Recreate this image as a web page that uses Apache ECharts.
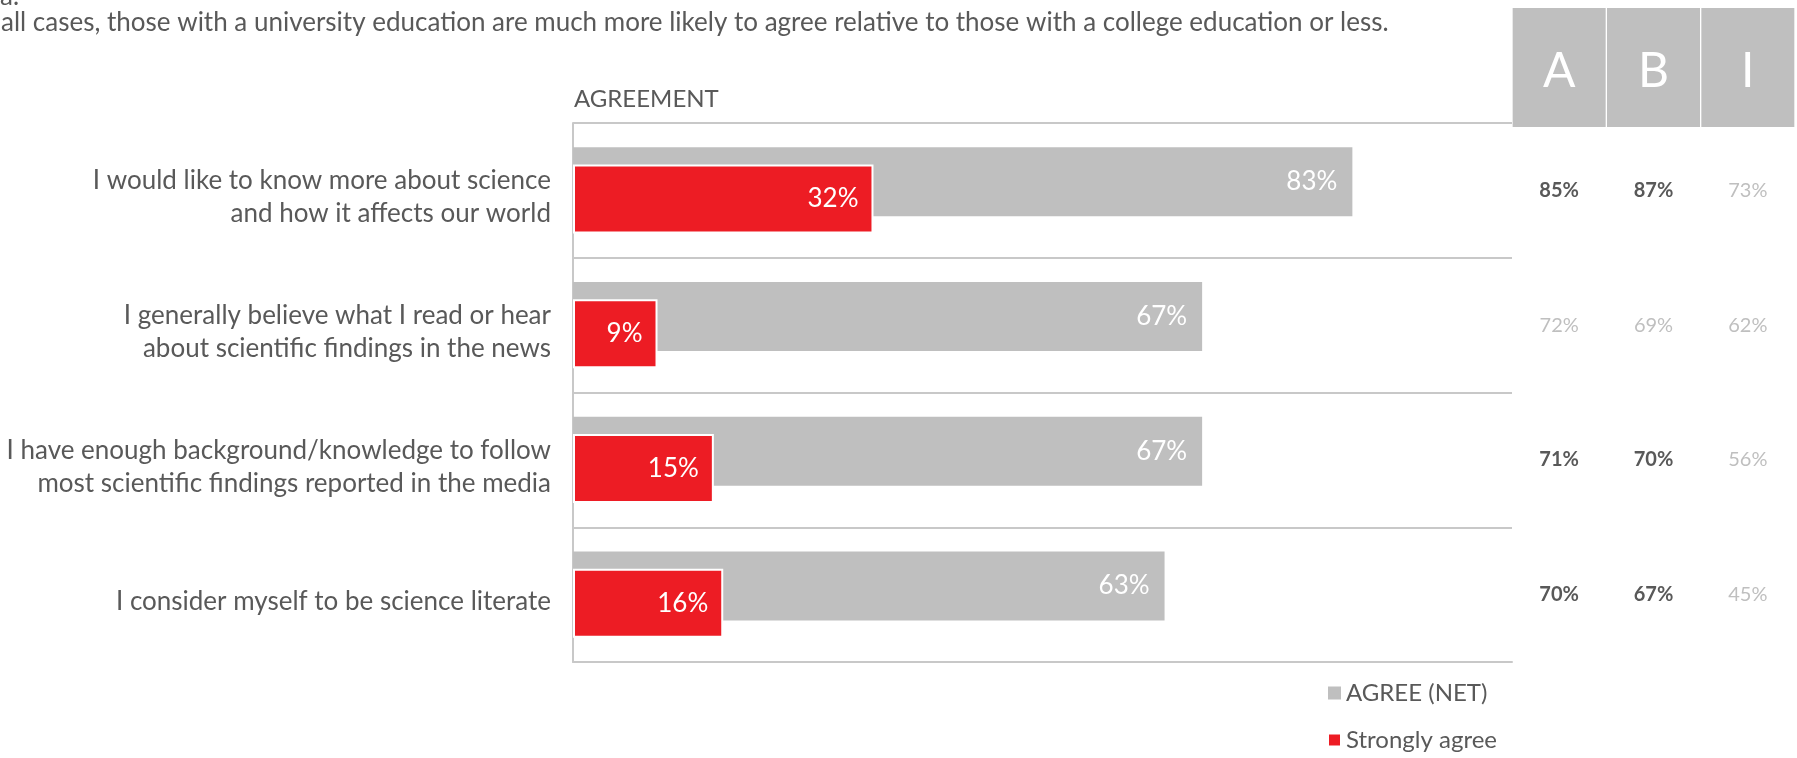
<!DOCTYPE html>
<html>
<head>
<meta charset="utf-8">
<script src="https://cdn.jsdelivr.net/npm/echarts@6/dist/echarts.min.js"></script>
<style>
  html, body { margin: 0; padding: 0; background: #ffffff; }
  #chart { width: 1797px; height: 758px; }
</style>
</head>
<body>
<div id="chart"></div>
<script>
// Survey statements (top to bottom)
const statements = [
  'I would like to know more about science\nand how it affects our world',
  'I generally believe what I read or hear\nabout scientific findings in the news',
  'I have enough background/knowledge to follow\nmost scientific findings reported in the media',
  'I consider myself to be science literate'
];
const seriesNames = ['AGREE (NET)', 'Strongly agree'];
const agreeNet = [83, 67, 67, 63];
const stronglyAgree = [32, 9, 15, 16];

// Agreement by group
const groups = ['A', 'B', 'I'];
const groupA = [85, 72, 71, 70];
const groupB = [87, 69, 70, 67];
const groupI = [73, 62, 56, 45];
// Significantly higher results (shown in bold)
const sigA = [true, false, true, true];
const sigB = [true, false, true, true];
const sigI = [false, false, false, false];

const FONT = 'Lato';
const GREY = '#bfbfbf';
const RED = '#ed1c24';
const TEXT = '#595959';
const RULE = '#c8c8c8';

const tableCols = [groupA, groupB, groupI];
const tableSig = [sigA, sigB, sigI];
const cells = [];
tableCols.forEach((col, c) => {
  col.forEach((v, r) => {
    cells.push({
      value: [c, r, v],
      label: tableSig[c][r]
        ? { fontWeight: 'bold', color: TEXT }
        : { fontWeight: 'normal', color: GREY }
    });
  });
});

// Statement labels: a short spacer line on top nudges the text block down a little
function statementLabel(v) {
  return '{gap| }\n' + v.split('\n').map(s => '{t|' + s + '}').join('\n');
}

const chart = echarts.init(document.getElementById('chart'), null, { renderer: 'canvas' });

const option = {
  animation: false,
  backgroundColor: '#ffffff',
  textStyle: { fontFamily: FONT },
  grid: [
    { left: 573, right: 285, top: 123, bottom: 96 },
    { left: 1512, right: 0, top: 123, bottom: 96 }
  ],
  xAxis: [
    {
      gridIndex: 0, type: 'value', min: 0, max: 100,
      axisLine: { show: true, lineStyle: { color: RULE, width: 2 } },
      axisTick: { show: false }, axisLabel: { show: false }, splitLine: { show: false }
    },
    {
      gridIndex: 1, type: 'category', data: groups, position: 'top',
      axisLine: { show: false }, axisTick: { show: false }, splitLine: { show: false },
      axisLabel: {
        margin: 0, interval: 0,
        formatter: v => '{h|' + v + '}',
        rich: {
          h: {
            width: 93, height: 111, lineHeight: 111, padding: [8, 0, 0, 0], align: 'center',
            backgroundColor: GREY, color: '#ffffff', fontSize: 48, fontFamily: FONT
          }
        }
      }
    }
  ],
  yAxis: [
    {
      gridIndex: 0, type: 'category', data: statements, inverse: true,
      axisLine: { show: true, lineStyle: { color: RULE, width: 2 } },
      axisTick: { show: false },
      splitLine: { show: true, lineStyle: { color: RULE, width: 2 } },
      axisLabel: {
        margin: 22, formatter: statementLabel,
        rich: {
          gap: { fontSize: 6, lineHeight: 14 },
          t: { color: TEXT, fontSize: 26, lineHeight: 33, fontFamily: FONT, align: 'right' }
        }
      }
    },
    { gridIndex: 1, type: 'category', data: statements, inverse: true, show: false }
  ],
  legend: {
    orient: 'vertical', left: 1322, top: 676,
    itemWidth: 13, itemHeight: 13, itemGap: 23, icon: 'rect',
    data: seriesNames,
    textStyle: { color: TEXT, fontSize: 24, fontFamily: FONT }
  },
  graphic: [
    {
      type: 'text', left: 0, top: -16,
      style: { text: 'a.', fill: TEXT, font: '26px Lato' }
    },
    {
      type: 'text', left: 1, top: 10,
      style: {
        text: 'all cases, those with a university education are much more likely to agree relative to those with a college education or less.',
        fill: TEXT, font: '26px Lato'
      }
    },
    {
      type: 'text', left: 574, top: 87,
      style: { text: 'AGREEMENT', fill: TEXT, font: '24px Lato' }
    }
  ],
  series: [
    {
      name: seriesNames[0], type: 'bar', xAxisIndex: 0, yAxisIndex: 0,
      data: agreeNet, barWidth: 69, barGap: '-75%',
      itemStyle: { color: GREY },
      label: {
        show: true, position: 'insideRight', distance: 15,
        formatter: p => p.value + '%', color: '#ffffff', fontSize: 26, fontFamily: FONT
      },
      z: 2
    },
    {
      name: seriesNames[1], type: 'bar', xAxisIndex: 0, yAxisIndex: 0,
      data: stronglyAgree, barWidth: 69, barGap: '-75%',
      itemStyle: { color: RED, borderColor: '#ffffff', borderWidth: 2 },
      label: {
        show: true, position: 'insideRight', distance: 15,
        formatter: p => p.value + '%', color: '#ffffff', fontSize: 26, fontFamily: FONT
      },
      z: 3
    },
    {
      name: 'groups', type: 'scatter', xAxisIndex: 1, yAxisIndex: 1,
      data: cells, symbolSize: 1, itemStyle: { color: 'rgba(0,0,0,0)' },
      label: {
        show: true, position: 'inside', opacity: 1,
        formatter: p => p.value[2] + '%', fontSize: 20, fontFamily: FONT
      },
      silent: true
    }
  ]
};

chart.setOption(option);
</script>
</body>
</html>
